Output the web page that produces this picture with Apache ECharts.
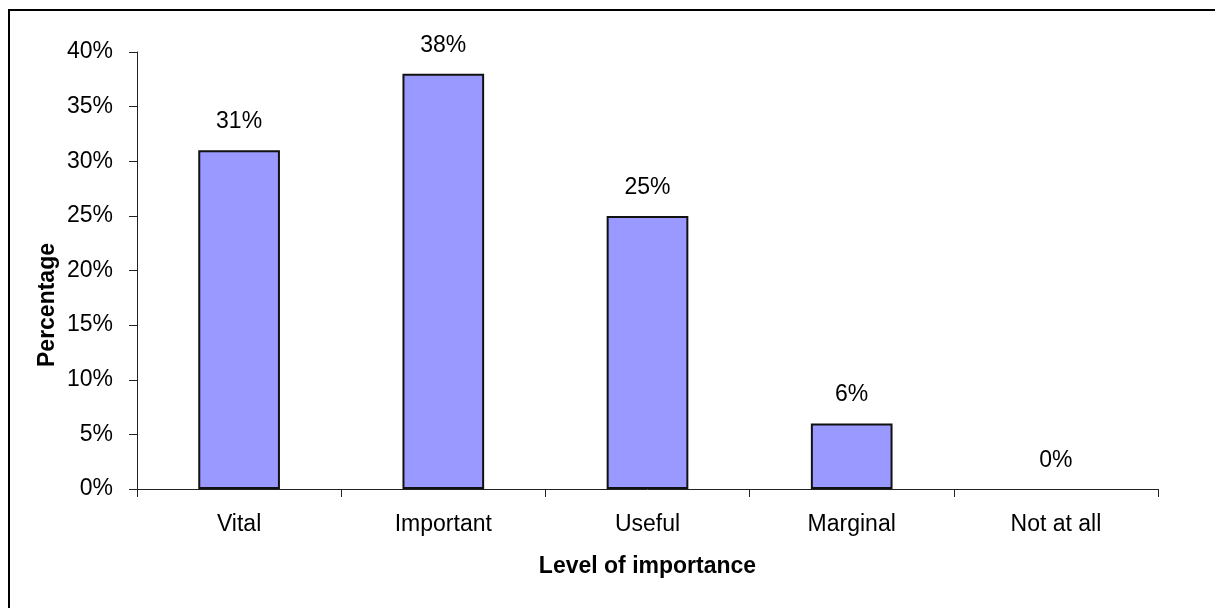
<!DOCTYPE html>
<html>
<head>
<meta charset="utf-8">
<script src="https://cdn.jsdelivr.net/npm/echarts@6/dist/echarts.min.js"></script>
<style>
  html, body { margin: 0; padding: 0; background: #fff; }
  #chart { width: 1215px; height: 608px; }
</style>
</head>
<body>
<div id="chart"></div>
<script>
'use strict';

const categories = ['Vital', 'Important', 'Useful', 'Marginal', 'Not at all'];
const percentages = [31, 38, 25, 6, 0];
const yTicks = { min: 0, max: 40, interval: 5 };

(function () {
  const el = document.getElementById('chart');
  const chart = echarts.init(el, null, { renderer: 'canvas' });
  const font = '"Liberation Sans", Arial, sans-serif';

  // zero-height bars draw nothing in the original (no outline on the axis)
  const barData = percentages.map((v) => (v === 0 ? { value: v, itemStyle: { borderWidth: 0 } } : v));

  chart.setOption({
    animation: false,
    backgroundColor: '#fff',
    textStyle: { fontFamily: font, color: '#000' },
    grid: { left: 137, right: 57, top: 52, bottom: 119 },
    graphic: [
      // outer chart frame (only the top and left edges fall inside the picture)
      {
        type: 'rect',
        shape: { x: 9, y: 10, width: 1300, height: 700 },
        style: { fill: 'none', stroke: '#000', lineWidth: 2 },
        silent: true,
      },
      {
        type: 'text',
        x: 48,
        y: 305,
        rotation: Math.PI / 2,
        style: {
          text: 'Percentage',
          font: 'bold 23px ' + font,
          fill: '#000',
          align: 'center',
          verticalAlign: 'middle',
        },
      },
    ],
    xAxis: {
      type: 'category',
      data: categories,
      name: 'Level of importance',
      nameLocation: 'middle',
      nameGap: 66,
      nameTextStyle: { fontFamily: font, fontSize: 23, fontWeight: 'bold', color: '#000' },
      axisLine: { lineStyle: { color: '#222', width: 1 } },
      axisTick: { show: true, length: 8, lineStyle: { color: '#222' } },
      axisLabel: { fontFamily: font, fontSize: 23, color: '#000', margin: 24 },
      splitLine: { show: false },
    },
    yAxis: {
      type: 'value',
      min: yTicks.min,
      max: yTicks.max,
      interval: yTicks.interval,
      axisLine: { show: true, lineStyle: { color: '#222', width: 1 } },
      axisTick: { show: true, length: 8, lineStyle: { color: '#222' } },
      axisLabel: { fontFamily: font, fontSize: 23, color: '#000', margin: 24, formatter: '{value}%' },
      splitLine: { show: false },
    },
    series: [{
      type: 'bar',
      data: barData,
      barWidth: '40%',
      itemStyle: { color: '#9999FF', borderColor: '#111', borderWidth: 2 },
      label: {
        show: true,
        position: 'top',
        distance: 17,
        fontFamily: font,
        fontSize: 23,
        color: '#000',
        formatter: '{c}%',
      },
    }],
  });
})();
</script>
</body>
</html>
